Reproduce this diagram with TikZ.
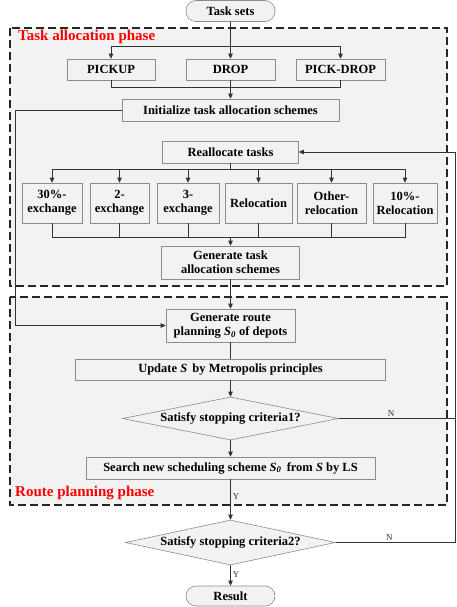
\documentclass[tikz,border=0pt]{standalone}
\usepackage{fontspec}
\setmainfont{Liberation Serif}
\usetikzlibrary{arrows.meta,shapes.geometric,calc}
\definecolor{bggray}{HTML}{F2F2F2}
\definecolor{edgegray}{HTML}{8C8C8C}
\begin{document}
\begin{tikzpicture}[x=1pt,y=-1pt,
  txt/.style={font=\fontsize{12.5}{14}\selectfont\bfseries, align=center},
  pbox/.style={txt, draw=edgegray, fill=bggray, line width=0.6pt, inner sep=0pt},
  term/.style={pbox, rounded corners=10pt},
  dec/.style={txt, diamond, draw=edgegray, fill=bggray, line width=0.6pt, inner sep=0pt, aspect=5},
  phase/.style={dash pattern=on 8pt off 4pt, line width=1.2pt, draw=black!85, fill=bggray},
  ptitle/.style={font=\fontsize{15}{17}\selectfont\bfseries, text=red, anchor=west, inner sep=0pt},
  conn/.style={line width=0.7pt, black!80},
  arr/.style={conn, -{Triangle[length=5pt,width=4.5pt]}},
  lab/.style={font=\fontsize{9}{10}\selectfont, inner sep=0pt}
]
\useasboundingbox (0,0) rectangle (457,607);
% phase backgrounds
\draw[phase] (10,28) rectangle (447,286);
\draw[phase] (10,297) rectangle (447,505);
\node[ptitle] (t1) at (18,37) {Task allocation phase};
\node[ptitle] (t2) at (15,493) {Route planning phase};
% nodes
\node[term, minimum width=89pt, minimum height=21pt] (ts) at (230.5,11) {Task sets};
\node[pbox, minimum width=88pt, minimum height=21pt] (pu) at (111,69.5) {PICKUP};
\node[pbox, minimum width=89pt, minimum height=21pt] (dr) at (230.5,69.5) {DROP};
\node[pbox, minimum width=89pt, minimum height=21pt] (pd) at (340.5,69.5) {PICK-DROP};
\node[pbox, minimum width=217pt, minimum height=22pt] (init) at (230.5,110) {Initialize task allocation schemes};
\node[pbox, minimum width=136pt, minimum height=22pt] (re) at (230.5,152) {Reallocate tasks};
\node[pbox, minimum width=60pt, minimum height=40pt] (e1) at (52,203) {30\%-\\exchange};
\node[pbox, minimum width=59pt, minimum height=40pt] (e2) at (119.5,203) {2-\\exchange};
\node[pbox, minimum width=62pt, minimum height=40pt] (e3) at (188,203) {3-\\exchange};
\node[pbox, minimum width=67pt, minimum height=40pt] (e4) at (258.5,203) {Relocation};
\node[pbox, minimum width=69pt, minimum height=40pt] (e5) at (331.5,203) {Other-\\relocation};
\node[pbox, minimum width=64pt, minimum height=40pt] (e6) at (405,203) {10\%-\\Relocation};
\node[pbox, minimum width=138pt, minimum height=33pt] (gt) at (230.5,262.5) {Generate task\\allocation schemes};
\node[pbox, minimum width=129pt, minimum height=33pt] (gr) at (230.5,325.5) {Generate route\\planning \textit{S}\textsubscript{\textit{0}} of depots};
\node[pbox, minimum width=310pt, minimum height=21pt] (up) at (230.5,369.5) {Update \textit{S}\, by Metropolis principles};
\node[dec, minimum width=216pt, minimum height=43pt] (d1) at (230.5,418.5) {Satisfy stopping criteria1?};
\node[pbox, minimum width=289pt, minimum height=22pt] (se) at (230.5,468) {Search new scheduling scheme \textit{S}\textsubscript{\textit{0}}\, from \textit{S} by LS};
\node[dec, minimum width=210pt, minimum height=45pt] (d2) at (230.5,542.5) {Satisfy stopping criteria2?};
\node[term, minimum width=89pt, minimum height=20pt] (rs) at (230.5,596) {Result};
% helper coordinates
\coordinate (b1) at (230.5,46);
\coordinate (j1) at (230.5,87);
\coordinate (b2) at (230.5,169);
\coordinate (j2) at (230.5,237);
\coordinate (l1) at (15,110);
\coordinate (l2) at (15,325.5);
\coordinate (r1) at (455,542.5);
\coordinate (r2) at (455,152);
\coordinate (r3) at (455,418.5);
% connectors
\draw[arr] (ts) -- (dr);
\draw[arr] (b1) -| (pu.north);
\draw[arr] (b1) -| (pd.north);
\draw[conn] (pu.south) |- (j1);
\draw[conn] (pd.south) |- (j1);
\draw[arr] (dr) -- (init);
\draw[conn] (re) -- (b2);
\foreach \e in {e1,e2,e3,e4,e5,e6} {
  \draw[arr] (b2) -| (\e.north);
  \draw[conn] (\e.south) |- (j2);
}
\draw[arr] (j2) -- (gt);
\draw[arr] (gt) -- (gr);
\draw[arr] (init.west) -- (l1) -- (l2) -- (gr.west);
\draw[conn] (gr) -- (up);
\draw[arr] (up) -- (d1);
\draw[arr] (d1) -- (se);
\draw[arr] (se) -- node[lab, right=2pt, pos=0.42] {Y} (d2);
\draw[arr] (d2) -- node[lab, right=2pt, pos=0.45] {Y} (rs);
\draw[conn] (d1.east) -- node[lab, above=2pt, pos=0.45] {N} (r3);
\draw[arr] (d2.east) -- node[lab, above=2pt, pos=0.45] {N} (r1) -- (r2) -- (re.east);
\end{tikzpicture}
\end{document}
